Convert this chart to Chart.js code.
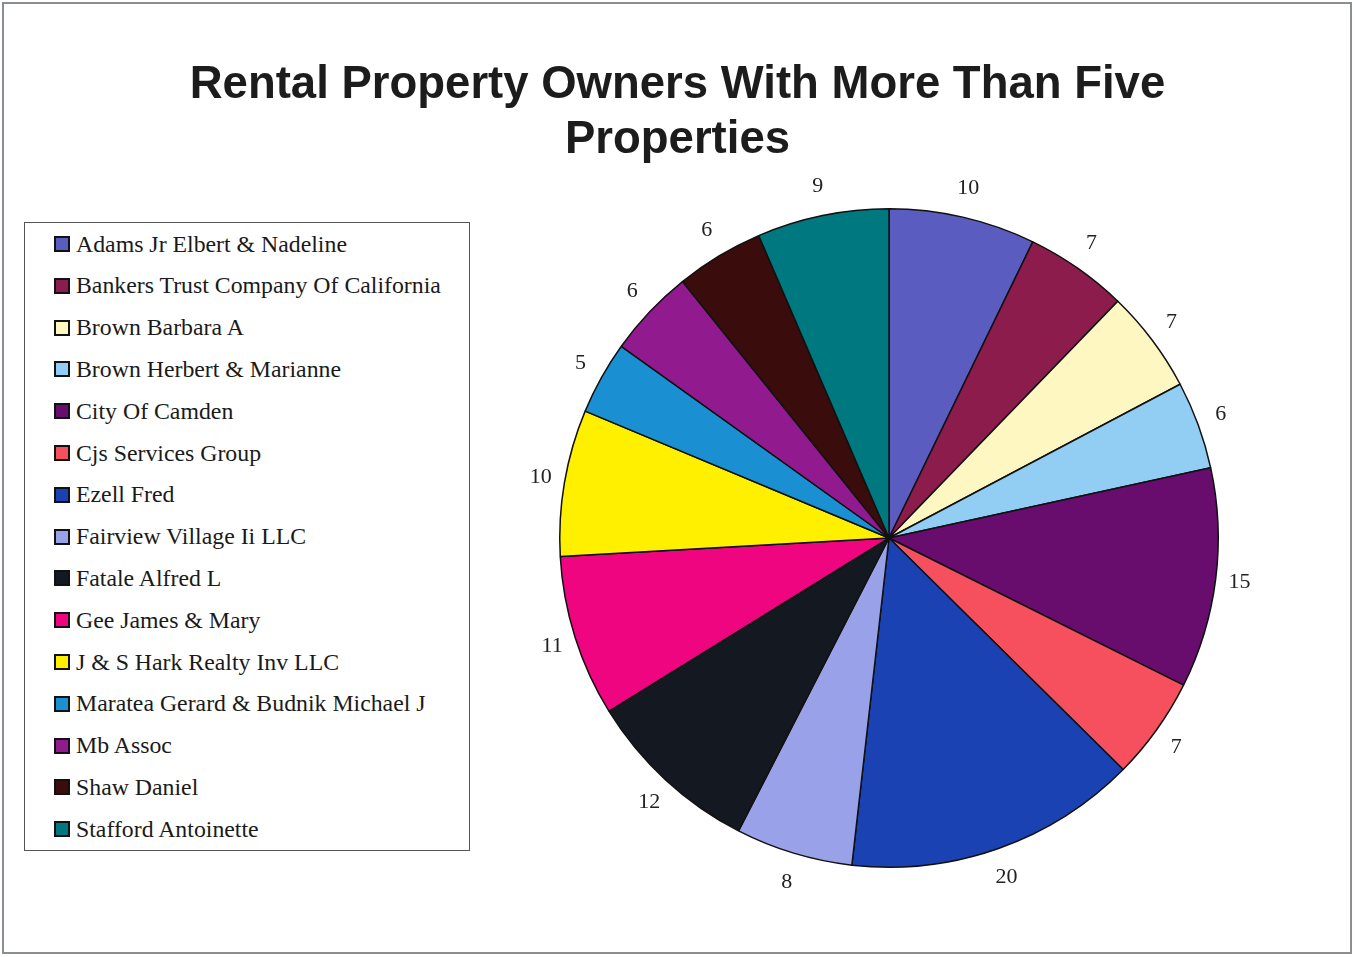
<!DOCTYPE html>
<html>
<head>
<meta charset="utf-8">
<script src="https://cdn.jsdelivr.net/npm/chart.js@4.4.1/dist/chart.umd.min.js"></script>
<style>
  html, body { margin: 0; padding: 0; background: #fff; }
  #page { position: relative; width: 1355px; height: 957px; overflow: hidden; background: #fff; }
  #frame { position: absolute; left: 2px; top: 2px; width: 1350px; height: 952px; border: 2px solid #8a8d92; box-sizing: border-box; pointer-events: none; }
  #chart { position: absolute; left: 0; top: 0; }
  #title { position: absolute; left: 0; top: 55px; width: 1355px; text-align: center;
           font-family: "Liberation Sans", Arial, sans-serif; font-weight: bold; font-size: 45.5px;
           line-height: 55px; color: #1c1c1c; }
  #legend { position: absolute; left: 24px; top: 222px; width: 446px; height: 629px;
            border: 1.5px solid #555; box-sizing: border-box; background: #fff; }
  .item { position: absolute; left: 29px; height: 28px; display: flex; align-items: center;
          font-family: "Liberation Serif", "Times New Roman", serif; font-size: 23.8px; color: #1a1a1a; white-space: nowrap; }
  .sw { width: 12px; height: 12px; border: 2px solid #111; margin-right: 6px; flex: none; }
</style>
</head>
<body>
<div id="page">
  <canvas id="chart" width="1355" height="957"></canvas>
  <div id="title">Rental Property Owners With More Than Five<br>Properties</div>
  <div id="legend"></div>
  <div id="frame"></div>
</div>
<script>
// Owners and the number of rental properties each one holds
const owners = [
  "Adams Jr Elbert & Nadeline",
  "Bankers Trust Company Of California",
  "Brown Barbara A",
  "Brown Herbert & Marianne",
  "City Of Camden",
  "Cjs Services Group",
  "Ezell Fred",
  "Fairview Village Ii LLC",
  "Fatale Alfred L",
  "Gee James & Mary",
  "J & S Hark Realty Inv LLC",
  "Maratea Gerard & Budnik Michael J",
  "Mb Assoc",
  "Shaw Daniel",
  "Stafford Antoinette"
];
const properties = [10, 7, 7, 6, 15, 7, 20, 8, 12, 11, 10, 5, 6, 6, 9];
const sliceColors = [
  "#5a5cc0", "#8c1c4c", "#fff7c2", "#92cdf3", "#680c6e",
  "#f6505e", "#1b42b2", "#99a1e8", "#141820", "#ef0580",
  "#fff000", "#1a90d2", "#911a8f", "#3a0c0c", "#00787f"
];

// HTML legend, one row per owner
const legendEl = document.getElementById('legend');
owners.forEach((name, i) => {
  const row = document.createElement('div');
  row.className = 'item';
  row.style.top = (7 + i * 41.8) + 'px';
  const sw = document.createElement('span');
  sw.className = 'sw';
  sw.style.background = sliceColors[i];
  const txt = document.createElement('span');
  txt.textContent = name;
  row.appendChild(sw);
  row.appendChild(txt);
  legendEl.appendChild(row);
});

// Value labels placed just outside each slice
const outsideLabels = {
  id: 'outsideLabels',
  afterDatasetsDraw(chart) {
    const { ctx } = chart;
    const meta = chart.getDatasetMeta(0);
    ctx.save();
    ctx.font = '22px "Liberation Serif", "Times New Roman", serif';
    ctx.fillStyle = '#222';
    ctx.textAlign = 'center';
    ctx.textBaseline = 'middle';
    meta.data.forEach((arc, i) => {
      const p = arc.getProps(['x', 'y', 'startAngle', 'endAngle', 'outerRadius'], true);
      const mid = (p.startAngle + p.endAngle) / 2;
      const rx = p.outerRadius + 24;
      const ry = p.outerRadius + 30;
      ctx.fillText(String(chart.data.datasets[0].data[i]), p.x + Math.cos(mid) * rx, p.y + Math.sin(mid) * ry);
    });
    ctx.restore();
  }
};

new Chart(document.getElementById('chart'), {
  type: 'pie',
  data: {
    labels: owners,
    datasets: [{
      data: properties,
      backgroundColor: sliceColors,
      borderColor: '#111',
      borderWidth: 1.5
    }]
  },
  options: {
    responsive: false,
    animation: false,
    devicePixelRatio: 1,
    layout: { padding: { left: 559, right: 136, top: 208, bottom: 89 } },
    plugins: {
      legend: { display: false },
      title: { display: false },
      tooltip: { enabled: false }
    }
  },
  plugins: [outsideLabels]
});
</script>
</body>
</html>
